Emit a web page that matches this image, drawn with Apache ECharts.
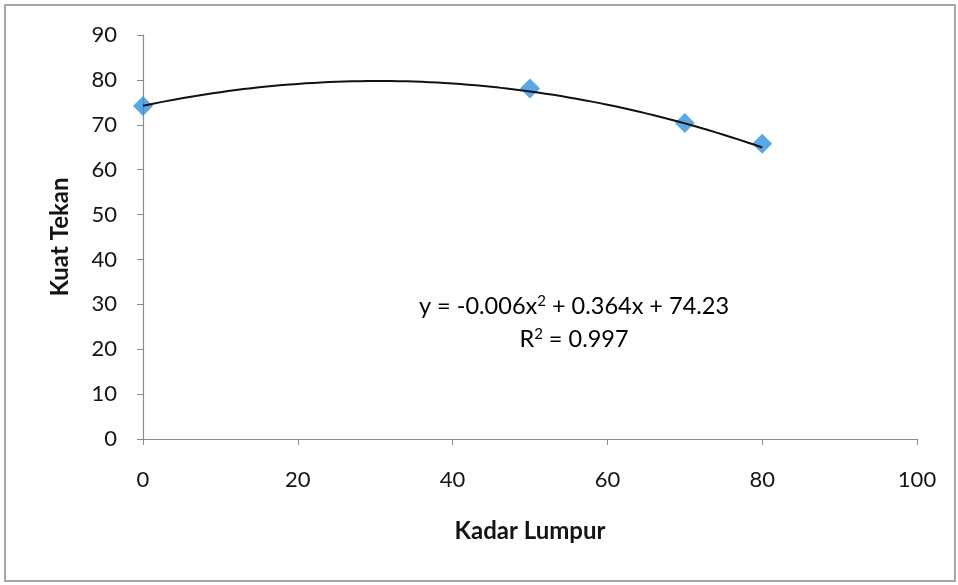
<!DOCTYPE html>
<html>
<head>
<meta charset="utf-8">
<script src="https://cdn.jsdelivr.net/npm/echarts@6/dist/echarts.min.js"></script>
<style>
  html, body { margin: 0; padding: 0; background: #fff; }
  #frame { position: absolute; left: 4px; top: 4px; width: 948px; height: 574px; border: 2px solid #a6a6a6; }
  #chart { position: absolute; left: 0; top: 0; width: 958px; height: 585px; }
</style>
</head>
<body>
<div id="frame"></div>
<div id="chart"></div>
<script>
// Kadar lumpur (mud content) vs kuat tekan (compressive strength)
const kadarLumpur = [0, 50, 70, 80];
const kuatTekan = [74.2, 78.1, 70.4, 65.8];

// Polynomial trendline coefficients (order 2): a·x² + b·x + c
const trendCoef = [-0.006, 0.364, 74.23];
const rSquared = 0.997;
const trendRange = [0, 80];

const xTicks = [0, 20, 40, 60, 80, 100];
const yTicks = [0, 10, 20, 30, 40, 50, 60, 70, 80, 90];

const FONT = 'Lato, "Open Sans", sans-serif';
const TEXT = '#141414';

// sample the trendline along the measured range
const trendLine = [];
for (let x = trendRange[0]; x <= trendRange[1]; x += 1) {
  const y = trendCoef[0] * x * x + trendCoef[1] * x + trendCoef[2];
  trendLine.push([x, y]);
}

const fmtSigned = v => (v < 0 ? '- ' + Math.abs(v) : '+ ' + v);
const eqLine1 = '{t|y = ' + trendCoef[0] + 'x}{sup|2}{t| ' + fmtSigned(trendCoef[1]) + 'x ' + fmtSigned(trendCoef[2]) + '}';
const eqLine2 = '{t|R}{sup|2}{t| = ' + rSquared + '}';

const eqRich = {
  t: { fontFamily: FONT, fontSize: 23.5, color: TEXT, lineHeight: 30 },
  sup: { fontFamily: FONT, fontSize: 15, color: TEXT, lineHeight: 30, padding: [0, 0, 10, 0] }
};

const chart = echarts.init(document.getElementById('chart'));
chart.setOption({
  animation: false,
  backgroundColor: 'transparent',
  grid: { left: 143, right: 41, top: 35, bottom: 146 },
  xAxis: {
    type: 'value',
    min: xTicks[0], max: xTicks[xTicks.length - 1], interval: xTicks[1] - xTicks[0],
    name: 'Kadar Lumpur', nameLocation: 'middle', nameGap: 80,
    nameTextStyle: { fontFamily: FONT, fontWeight: 'bold', fontSize: 24, color: TEXT },
    axisLine: { show: true, lineStyle: { color: '#8c8c8c', width: 1.2 } },
    axisTick: { show: true, length: 6, inside: false, lineStyle: { color: '#8c8c8c' } },
    axisLabel: { fontFamily: FONT, fontSize: 22, color: TEXT, margin: 30 },
    splitLine: { show: false }
  },
  yAxis: {
    type: 'value',
    min: yTicks[0], max: yTicks[yTicks.length - 1], interval: yTicks[1] - yTicks[0],
    name: 'Kuat Tekan', nameLocation: 'middle', nameGap: 71, nameRotate: 90,
    nameTextStyle: { fontFamily: FONT, fontWeight: 'bold', fontSize: 24, color: TEXT },
    axisLine: { show: true, lineStyle: { color: '#8c8c8c', width: 1.2 } },
    axisTick: { show: true, length: 6, inside: false, lineStyle: { color: '#8c8c8c' } },
    axisLabel: { fontFamily: FONT, fontSize: 22, color: TEXT, margin: 26 },
    splitLine: { show: false }
  },
  series: [
    {
      name: 'Trendline',
      type: 'line',
      data: trendLine,
      showSymbol: false,
      lineStyle: { color: '#111', width: 2 },
      z: 3
    },
    {
      name: 'Kuat Tekan',
      type: 'scatter',
      data: kadarLumpur.map((x, i) => [x, kuatTekan[i]]),
      symbol: 'diamond',
      symbolSize: [20, 20],
      itemStyle: { color: '#3092de' },
      z: 2
    }
  ],
  graphic: [
    {
      type: 'text',
      x: 574, y: 306,
      style: { text: eqLine1, align: 'center', verticalAlign: 'middle', rich: eqRich }
    },
    {
      type: 'text',
      x: 574, y: 339,
      style: { text: eqLine2, align: 'center', verticalAlign: 'middle', rich: eqRich }
    }
  ]
});
</script>
</body>
</html>
